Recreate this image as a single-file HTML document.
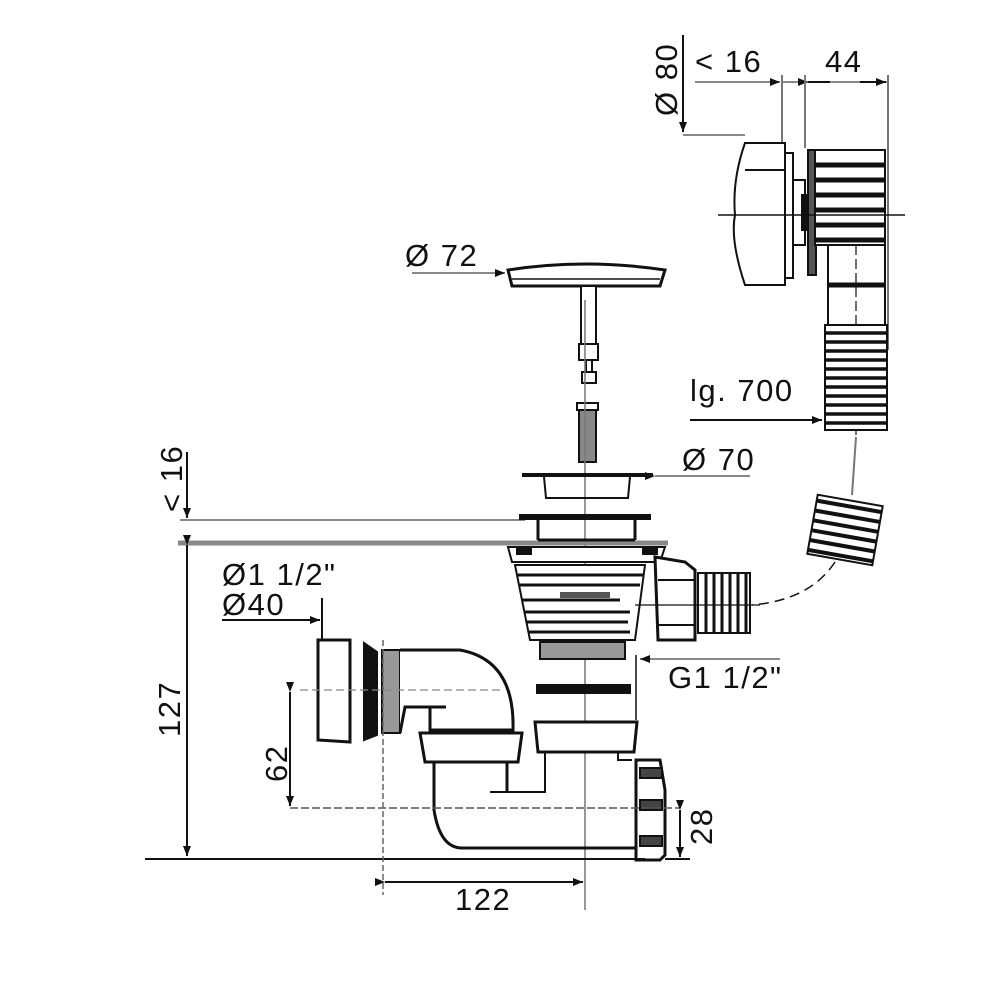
<!DOCTYPE html>
<html><head><meta charset="utf-8"><style>
html,body{margin:0;padding:0;background:#fff}
svg{display:block}
text{font-family:"Liberation Sans",sans-serif;font-size:31px;letter-spacing:1.5px;fill:#111}
</style></head><body>
<svg width="1000" height="1000" viewBox="0 0 1000 1000" xmlns="http://www.w3.org/2000/svg">
<defs>
<marker id="a" markerWidth="10" markerHeight="8" refX="10" refY="4" orient="auto" markerUnits="userSpaceOnUse"><path d="M0,0 L10,4 L0,8 z" fill="#111"/></marker>
</defs>
<g stroke="#111" fill="none" stroke-width="2">
<line x1="683" y1="35" x2="683" y2="132" marker-end="url(#a)"/>
<line x1="683" y1="135" x2="745" y2="135" stroke="#888"/>
<line x1="695" y1="82" x2="780" y2="82" stroke="#888" marker-end="url(#a)"/>
<line x1="782" y1="82" x2="888" y2="82" stroke="#888"/>
<line x1="808" y1="82" x2="830" y2="82" marker-start="url(#a)"/>
<line x1="860" y1="82" x2="886" y2="82" marker-end="url(#a)"/>
<line x1="782" y1="75" x2="782" y2="142" stroke="#777"/>
<line x1="805" y1="75" x2="805" y2="148" stroke="#777"/>
<line x1="888" y1="75" x2="888" y2="350" stroke="#777"/>
<path d="M745,143 L785,143 L785,285 L745,285 Q730,240 735,215 Q732,180 745,143 Z" fill="#fff"/>
<line x1="745" y1="170" x2="785" y2="170"/>
<rect x="785" y="153" width="8" height="125" fill="#fff"/>
<rect x="793" y="180" width="12" height="65" fill="#fff"/>
<rect x="802" y="195" width="8" height="35" fill="#111"/>
<rect x="808" y="150" width="8" height="125" fill="#555"/>
<rect x="815" y="150" width="70" height="95" fill="#fff"/>
<g stroke-width="5"><line x1="815" y1="165" x2="885" y2="165"/><line x1="815" y1="180" x2="885" y2="180"/><line x1="815" y1="195" x2="885" y2="195"/><line x1="815" y1="210" x2="885" y2="210"/><line x1="815" y1="225" x2="885" y2="225"/><line x1="815" y1="240" x2="885" y2="240"/></g>
<rect x="828" y="245" width="57" height="80" fill="#fff"/>
<line x1="828" y1="285" x2="885" y2="285" stroke-width="5"/>
<line x1="718" y1="215" x2="905" y2="215" stroke-width="1.5"/>
<line x1="856" y1="245" x2="856" y2="435" stroke-width="1.2" stroke-dasharray="10,4"/>
<rect x="825" y="325" width="62" height="105" fill="#fff"/>
<g stroke-width="3.5">
<line x1="825" y1="333" x2="887" y2="333"/><line x1="825" y1="342" x2="887" y2="342"/><line x1="825" y1="351" x2="887" y2="351"/><line x1="825" y1="360" x2="887" y2="360"/><line x1="825" y1="369" x2="887" y2="369"/><line x1="825" y1="378" x2="887" y2="378"/><line x1="825" y1="387" x2="887" y2="387"/><line x1="825" y1="396" x2="887" y2="396"/><line x1="825" y1="405" x2="887" y2="405"/><line x1="825" y1="414" x2="887" y2="414"/><line x1="825" y1="423" x2="887" y2="423"/></g>
<line x1="690" y1="420" x2="822" y2="420" marker-end="url(#a)"/>
<line x1="856" y1="437" x2="852" y2="495" stroke="#777"/>
<g transform="rotate(10 845 530)">
<rect x="812" y="500" width="66" height="60" fill="#fff"/>
<g stroke-width="4"><line x1="812" y1="506" x2="878" y2="506"/><line x1="812" y1="516" x2="878" y2="516"/><line x1="812" y1="526" x2="878" y2="526"/><line x1="812" y1="536" x2="878" y2="536"/><line x1="812" y1="546" x2="878" y2="546"/><line x1="812" y1="556" x2="878" y2="556"/></g></g>
<path d="M835,562 Q810,600 752,605" stroke-width="1.5" stroke-dasharray="10,6"/>
<path d="M508,270 Q585,258 665,270 L660,286 L512,286 Z" fill="#fff" stroke-width="3"/>
<line x1="512" y1="279" x2="660" y2="279" stroke-width="1.5"/>
<line x1="412" y1="273" x2="505" y2="273" stroke="#888" marker-end="url(#a)"/>
<rect x="581" y="286" width="15" height="58" fill="#fff"/>
<rect x="579" y="344" width="19" height="16" fill="#fff"/>
<rect x="586" y="360" width="6" height="12" fill="#fff"/>
<rect x="582" y="372" width="14" height="11" fill="#fff"/>
<rect x="577" y="403" width="21" height="7" fill="#fff"/>
<rect x="579" y="410" width="17" height="52" fill="#888"/>
<line x1="585" y1="300" x2="585" y2="910" stroke="#777" stroke-width="1.5"/>
<line x1="522" y1="475" x2="653" y2="475" stroke-width="4"/>
<path d="M544,477 L546,498 L628,498 L630,477" />
<line x1="655" y1="476" x2="750" y2="476" stroke="#888" marker-start="url(#a)"/>
<line x1="180" y1="520" x2="525" y2="520" stroke="#888" stroke-width="2"/>
<line x1="178" y1="543" x2="668" y2="543" stroke="#888" stroke-width="5"/>
<rect x="520" y="515" width="130" height="4" fill="#111"/>
<line x1="538" y1="519" x2="538" y2="540" stroke-width="3"/>
<line x1="635" y1="519" x2="635" y2="540" stroke-width="3"/>
<line x1="538" y1="540" x2="635" y2="540" stroke-width="3"/>
<line x1="187" y1="452" x2="187" y2="518" marker-end="url(#a)"/>
<line x1="187" y1="545" x2="187" y2="856" marker-start="url(#a)" marker-end="url(#a)"/>
<path d="M508,547 L665,547 L660,562 L512,562 Z" fill="#fff"/>
<rect x="517" y="548" width="14" height="6" fill="#111"/><rect x="643" y="548" width="14" height="6" fill="#111"/>
<path d="M515,565 L645,565 L635,640 L530,640 Z" fill="#fff"/>
<g stroke-width="3"><line x1="518" y1="575" x2="643" y2="575"/><line x1="520" y1="585" x2="640" y2="585"/><line x1="522" y1="600" x2="620" y2="600"/><line x1="524" y1="612" x2="630" y2="612"/><line x1="526" y1="622" x2="628" y2="622"/><line x1="528" y1="632" x2="630" y2="632"/></g>
<rect x="540" y="642" width="85" height="17" fill="#999"/>
<rect x="560" y="592" width="50" height="6" fill="#555" stroke="none"/>
<path d="M655,557 L685,562 L695,570 L695,640 L658,640 Z" fill="#fff" stroke-width="3"/>
<line x1="658" y1="580" x2="695" y2="580"/><line x1="658" y1="625" x2="695" y2="625"/>
<rect x="698" y="573" width="52" height="60" fill="#fff"/>
<g stroke-width="3"><line x1="706" y1="573" x2="706" y2="633"/><line x1="714" y1="573" x2="714" y2="633"/><line x1="722" y1="573" x2="722" y2="633"/><line x1="730" y1="573" x2="730" y2="633"/><line x1="738" y1="573" x2="738" y2="633"/><line x1="746" y1="573" x2="746" y2="633"/></g>
<line x1="635" y1="605" x2="760" y2="605" stroke-width="1.2"/>
<line x1="636" y1="655" x2="636" y2="720" stroke-width="1.5"/>
<line x1="780" y1="659" x2="640" y2="659" stroke="#888" marker-end="url(#a)"/>
<rect x="537" y="685" width="93" height="8" fill="#111"/>
<path d="M535,722 L637,722 L634,752 L538,752 Z" fill="#fff" stroke-width="3"/>
<line x1="322" y1="598" x2="322" y2="640"/>
<line x1="222" y1="620" x2="320" y2="620" marker-end="url(#a)"/>
<path d="M318,640 L350,640 L350,742 L318,740 Z" fill="#fff" stroke-width="3"/>
<path d="M364,643 L377,652 L377,735 L364,740 Z" fill="#111"/>
<rect x="382" y="650" width="18" height="83" fill="#999"/>
<path d="M400,650 L460,650 Q515,660 513,730 L430,730 L430,707 L405,707 L400,733" fill="#fff" stroke-width="3"/>
<line x1="404" y1="707" x2="446" y2="707" stroke-width="3"/>
<path d="M420,733 L522,733 L518,762 L425,762 Z" fill="#fff" stroke-width="3"/>
<line x1="300" y1="690" x2="500" y2="690" stroke="#888" stroke-width="1.2" stroke-dasharray="8,4"/>
<path d="M434,762 L434,810 Q440,848 462,848 L640,848" stroke-width="3"/>
<line x1="507" y1="762" x2="507" y2="792" stroke-width="3"/>
<path d="M490,792 L545,792 L545,752" stroke-width="2"/>
<path d="M618,752 L618,760 L632,760" stroke-width="2"/>
<path d="M636,760 L660,760 L665,790 L665,855 L660,860 L636,860 Z" fill="#fff" stroke-width="3"/>
<rect x="640" y="768" width="22" height="10" fill="#444"/>
<rect x="640" y="800" width="22" height="10" fill="#444"/>
<rect x="640" y="836" width="22" height="10" fill="#444"/>
<line x1="145" y1="859" x2="645" y2="859" stroke-width="2"/>
<line x1="290" y1="808" x2="680" y2="808" stroke="#555" stroke-width="1.5" stroke-dasharray="8,3"/>
<line x1="290" y1="692" x2="290" y2="806" marker-start="url(#a)" marker-end="url(#a)"/>
<line x1="680" y1="810" x2="680" y2="857" marker-start="url(#a)" marker-end="url(#a)"/>
<line x1="665" y1="859" x2="690" y2="859"/>
<line x1="383" y1="640" x2="383" y2="895" stroke="#666" stroke-width="1.5" stroke-dasharray="6,3"/>
<line x1="385" y1="882" x2="583" y2="882" marker-start="url(#a)" marker-end="url(#a)"/>
</g>
<text x="695" y="72">&lt; 16</text>
<text x="825" y="72">44</text>
<text transform="translate(677,116) rotate(-90)">Ø 80</text>
<text x="405" y="266">Ø 72</text>
<text x="690" y="401">lg. 700</text>
<text x="682" y="470">Ø 70</text>
<text transform="translate(182,512) rotate(-90)">&lt; 16</text>
<text x="222" y="585">Ø1 1/2"</text>
<text x="222" y="615">Ø40</text>
<text x="668" y="688">G1 1/2"</text>
<text transform="translate(180,737) rotate(-90)">127</text>
<text transform="translate(287,782) rotate(-90)">62</text>
<text transform="translate(712,845) rotate(-90)">28</text>
<text x="455" y="910">122</text>
</svg>
</body></html>
